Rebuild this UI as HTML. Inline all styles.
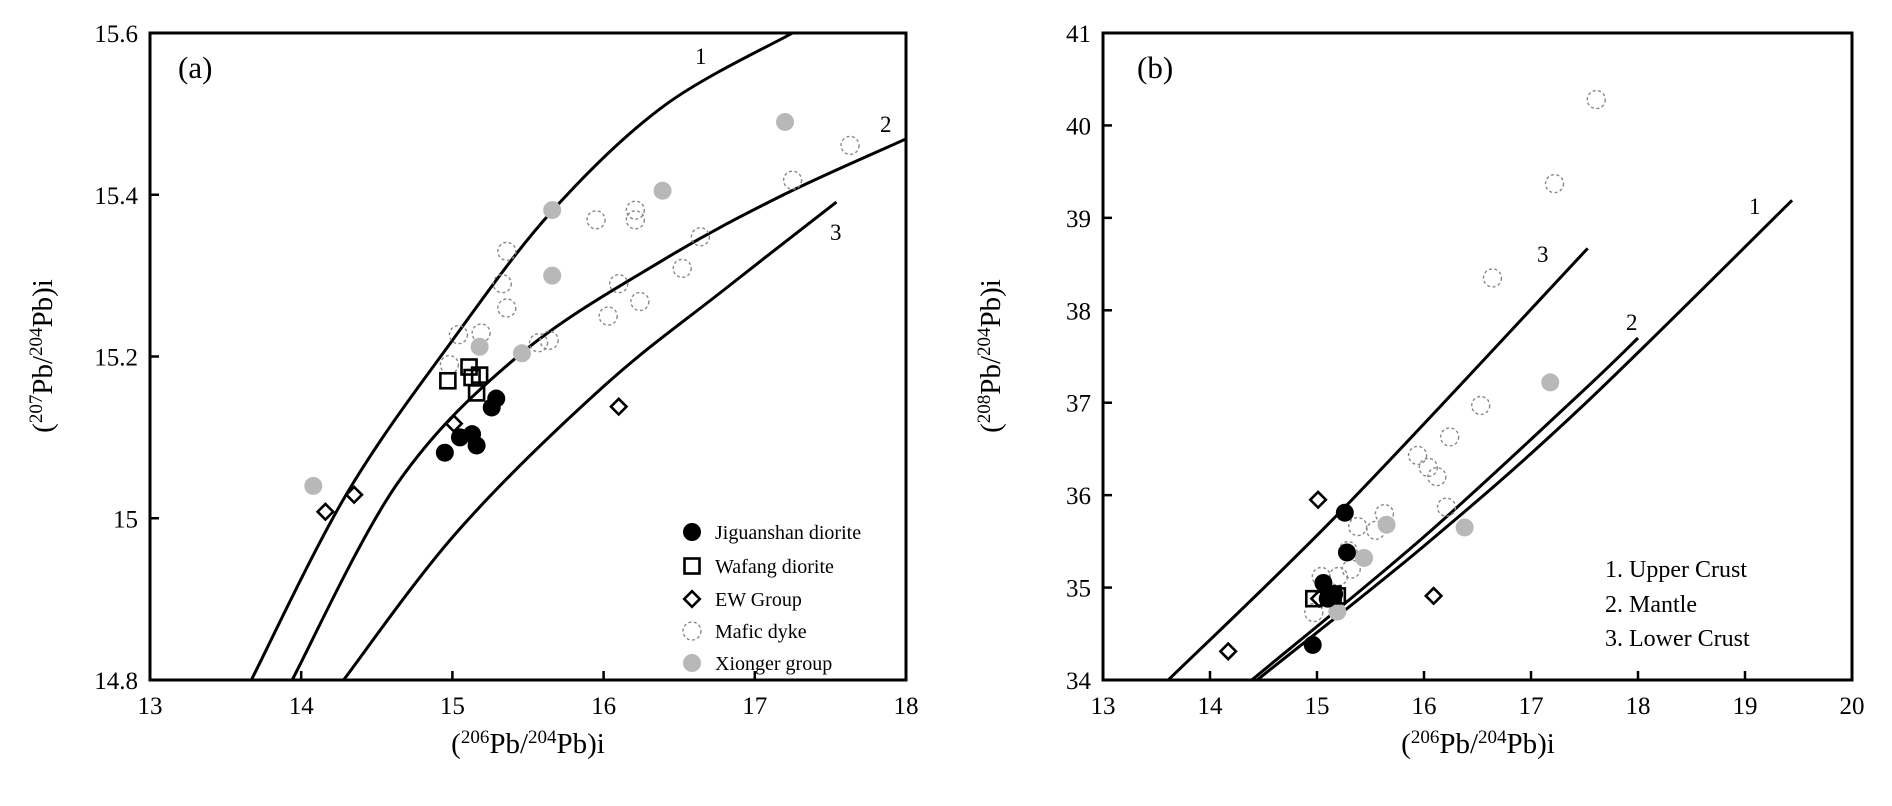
<!DOCTYPE html>
<html><head><meta charset="utf-8">
<style>
html,body{margin:0;padding:0;background:#fff;}
svg{display:block;font-family:"Liberation Serif",serif;}
</style></head>
<body>
<svg id="chart" width="1892" height="806" viewBox="0 0 1892 806" xmlns="http://www.w3.org/2000/svg"></svg>
<script>
// ---------- Panel (a) data ----------
const aXTicks = [13,14,15,16,17,18];
const aYTicks = [14.8,15,15.2,15.4,15.6];
const aYTickLabels = ["14.8","15","15.2","15.4","15.6"];
const aJigX = [14.95,15.05,15.13,15.16,15.26,15.29];
const aJigY = [15.081,15.10,15.104,15.09,15.137,15.148];
const aWafX = [14.97,15.11,15.13,15.18,15.16];
const aWafY = [15.17,15.187,15.174,15.177,15.155];
const aEwX = [14.16,14.35,15.01,16.10];
const aEwY = [15.008,15.029,15.117,15.138];
const aDykeX = [15.36,15.33,15.36,15.04,15.19,14.98,15.95,16.21,16.21,16.10,16.03,16.24,16.52,16.64,17.25,17.63,15.57,15.64];
const aDykeY = [15.33,15.29,15.26,15.227,15.229,15.19,15.369,15.381,15.369,15.29,15.25,15.268,15.309,15.348,15.418,15.461,15.217,15.22];
const aXiongX = [14.08,15.18,15.46,15.66,15.66,16.39,17.20];
const aXiongY = [15.04,15.212,15.204,15.30,15.381,15.405,15.49];
const aCurve1X = [13.67,14.3,15.0,15.66,16.4,17.25];
const aCurve1Y = [14.8,15.03,15.22,15.38,15.51,15.60];
const aCurve2X = [13.94,14.64,15.45,16.40,17.19,18.0];
const aCurve2Y = [14.8,15.044,15.203,15.32,15.40,15.469];
const aCurve3X = [14.28,15.04,16.00,16.80,17.54];
const aCurve3Y = [14.8,14.985,15.163,15.283,15.391];
// ---------- Panel (b) data ----------
const bXTicks = [13,14,15,16,17,18,19,20];
const bYTicks = [34,35,36,37,38,39,40,41];
const bJigX = [15.26,15.28,15.06,15.16,14.96,15.10];
const bJigY = [35.81,35.38,35.05,34.93,34.38,34.88];
const bWafX = [14.97,15.19,15.15];
const bWafY = [34.88,34.91,34.93];
const bEwX = [15.01,14.17,16.09,15.02];
const bEwY = [35.95,34.31,34.91,34.88];
const bDykeX = [17.61,17.22,16.64,16.53,16.24,15.94,16.04,16.12,16.21,15.63,15.38,15.55,15.32,15.20,15.04,14.97,15.29];
const bDykeY = [40.28,39.37,38.35,36.97,36.63,36.43,36.30,36.20,35.87,35.80,35.66,35.62,35.20,35.12,35.12,34.73,35.40];
const bXiongX = [15.65,15.44,15.19,16.38,17.18];
const bXiongY = [35.68,35.32,34.74,35.65,37.22];
const bCurve1X = [14.44,16.0,17.46,19.44];
const bCurve1Y = [34.0,35.45,36.94,39.19];
const bCurve2X = [14.39,16.0,17.46,18.0];
const bCurve2Y = [34.0,35.55,37.10,37.70];
const bCurve3X = [13.61,15.26,17.53];
const bCurve3Y = [34.0,35.87,38.67];

const NS = "http://www.w3.org/2000/svg";
const svg = document.getElementById('chart');
function mk(tag, attrs, parent){
  const e = document.createElementNS(NS, tag);
  for (const k in attrs) e.setAttribute(k, attrs[k]);
  (parent||svg).appendChild(e);
  return e;
}
function scale(d0,d1,p0,p1){ return v => p0 + (v-d0)/(d1-d0)*(p1-p0); }

function smoothPath(xs, ys, sx, sy){
  const P = xs.map((x,i)=>[sx(x), sy(ys[i])]);
  let d = `M${P[0][0]},${P[0][1]}`;
  for (let i=0;i<P.length-1;i++){
    const p0 = P[i-1]||P[i], p1=P[i], p2=P[i+1], p3=P[i+2]||P[i+1];
    const c1x = p1[0]+(p2[0]-p0[0])/6, c1y = p1[1]+(p2[1]-p0[1])/6;
    const c2x = p2[0]-(p3[0]-p1[0])/6, c2y = p2[1]-(p3[1]-p1[1])/6;
    d += ` C${c1x},${c1y} ${c2x},${c2y} ${p2[0]},${p2[1]}`;
  }
  return d;
}

function marker(g, type, cx, cy){
  let e;
  if (type==='jig') e = mk('circle',{cx,cy,r:9,fill:'#000'},g);
  else if (type==='waf') e = mk('rect',{x:cx-7.5,y:cy-7.5,width:15,height:15,fill:'none',stroke:'#000','stroke-width':2.6},g);
  else if (type==='ew') e = mk('rect',{x:cx-5.5,y:cy-5.5,width:11,height:11,fill:'none',stroke:'#000','stroke-width':2.6,transform:`rotate(45 ${cx} ${cy})`},g);
  else if (type==='dyke') e = mk('circle',{cx,cy,r:9,fill:'none',stroke:'#888','stroke-width':1.4,'stroke-dasharray':'3 2.5'},g);
  else e = mk('circle',{cx,cy,r:9,fill:'#b8b8b8'},g);
  return e;
}

function drawPanel(cfg){
  const {L,R,T,B,xd,yd,xTicks,yTicks,yLabels,name} = cfg;
  const sx = scale(xd[0],xd[1],L,R), sy = scale(yd[0],yd[1],B,T);
  const g = mk('g',{});
  
  
  const frame = mk('rect',{x:L,y:T,width:R-L,height:B-T,fill:'none',stroke:'#000','stroke-width':3},g);
  
  
  xTicks.forEach(v=>{
    const x = sx(v);
    if (v!==xd[0] && v!==xd[1]) {
      const t = mk('line',{x1:x,y1:B,x2:x,y2:B-9,stroke:'#000','stroke-width':2.5},g);
      
      
    }
    const lb = mk('text',{x:x,y:B+34,'font-size':25,'text-anchor':'middle'},g);
    lb.textContent = String(v);
    
    
  });
  yTicks.forEach((v,i)=>{
    const y = sy(v);
    if (v!==yd[0] && v!==yd[1]) {
      const t = mk('line',{x1:L,y1:y,x2:L+9,y2:y,stroke:'#000','stroke-width':2.5},g);
      
      
    }
    const lb = mk('text',{x:L-12,y:y+9,'font-size':25,'text-anchor':'end'},g);
    lb.textContent = yLabels ? yLabels[i] : String(v);
    
    
  });
  return {g,sx,sy};
}

function series(g, type, xs, ys, sx, sy, name){
  const sg = mk('g',{},g);
  
  
  xs.forEach((x,i)=>{
    const m = marker(sg, type, sx(x), sy(ys[i]));
    
    
  });
}
function curve(g, xs, ys, sx, sy, name){
  const p = mk('path',{d:smoothPath(xs,ys,sx,sy),fill:'none',stroke:'#000','stroke-width':3},g);
  
  
}
function label(g, x, y, txt, size, name, anchor){
  const t = mk('text',{x,y,'font-size':size,'text-anchor':anchor||'start'},g);
  t.textContent = txt;
  
  
  return t;
}
function axisTitle(g, x, y, rot, iso, name){
  const t = mk('text',{x,y,'font-size':29,'text-anchor':'middle',transform:rot?`rotate(-90 ${x} ${y})`:''},g);
  
  
  const parts = [['(',0],[iso,1],['Pb/',0],['204',1],['Pb)i',0]];
  parts.forEach(([s,sup])=>{
    const ts = document.createElementNS(NS,'tspan');
    ts.textContent = s;
    if (sup){ ts.setAttribute('font-size','19'); ts.setAttribute('dy','-10'); }
    else if (s!=='(') ts.setAttribute('dy','10');
    t.appendChild(ts);
  });
  return t;
}

// Panel a
const A = drawPanel({L:150,R:906,T:33,B:680,xd:[13,18],yd:[14.8,15.6],xTicks:aXTicks,yTicks:aYTicks,yLabels:aYTickLabels,name:'panel-a'});
curve(A.g,aCurve1X,aCurve1Y,A.sx,A.sy,'curve-upper-crust');
curve(A.g,aCurve2X,aCurve2Y,A.sx,A.sy,'curve-mantle');
curve(A.g,aCurve3X,aCurve3Y,A.sx,A.sy,'curve-lower-crust');
series(A.g,'dyke',aDykeX,aDykeY,A.sx,A.sy,'mafic-dyke');
series(A.g,'xiong',aXiongX,aXiongY,A.sx,A.sy,'xionger-group');
series(A.g,'waf',aWafX,aWafY,A.sx,A.sy,'wafang-diorite');
series(A.g,'ew',aEwX,aEwY,A.sx,A.sy,'ew-group');
series(A.g,'jig',aJigX,aJigY,A.sx,A.sy,'jiguanshan-diorite');
label(A.g,178,78,'(a)',31,'panel-label-a');
label(A.g,695,64,'1',23,'curve-label-1');
label(A.g,880,132,'2',23,'curve-label-2');
label(A.g,830,240,'3',23,'curve-label-3');
axisTitle(A.g,528,753,false,'206','x-axis-title-a');
axisTitle(A.g,52,356,true,'207','y-axis-title-a');
const legTypes = ['jig','waf','ew','dyke','xiong'];
const legNames = ['Jiguanshan diorite','Wafang diorite','EW Group','Mafic dyke','Xionger group'];
const legYs = [532,566,599,631,663];
const lg = mk('g',{},A.g);


legTypes.forEach((t,i)=>{
  const m = marker(lg,t,692,legYs[i]);
  
  
  label(lg,715,legYs[i]+7,legNames[i],20,'legend-entry');
});

// Panel b
const Bp = drawPanel({L:1103,R:1852,T:33,B:680,xd:[13,20],yd:[34,41],xTicks:bXTicks,yTicks:bYTicks,name:'panel-b'});
curve(Bp.g,bCurve1X,bCurve1Y,Bp.sx,Bp.sy,'curve-upper-crust');
curve(Bp.g,bCurve2X,bCurve2Y,Bp.sx,Bp.sy,'curve-mantle');
curve(Bp.g,bCurve3X,bCurve3Y,Bp.sx,Bp.sy,'curve-lower-crust');
series(Bp.g,'dyke',bDykeX,bDykeY,Bp.sx,Bp.sy,'mafic-dyke');
series(Bp.g,'xiong',bXiongX,bXiongY,Bp.sx,Bp.sy,'xionger-group');
series(Bp.g,'waf',bWafX,bWafY,Bp.sx,Bp.sy,'wafang-diorite');
series(Bp.g,'ew',bEwX,bEwY,Bp.sx,Bp.sy,'ew-group');
series(Bp.g,'jig',bJigX,bJigY,Bp.sx,Bp.sy,'jiguanshan-diorite');
label(Bp.g,1137,78,'(b)',31,'panel-label-b');
label(Bp.g,1749,214,'1',23,'curve-label-1');
label(Bp.g,1626,330,'2',23,'curve-label-2');
label(Bp.g,1537,262,'3',23,'curve-label-3');
label(Bp.g,1605,577,'1. Upper Crust',24,'curve-key-upper-crust');
label(Bp.g,1605,612,'2. Mantle',24,'curve-key-mantle');
label(Bp.g,1605,646,'3. Lower Crust',24,'curve-key-lower-crust');
axisTitle(Bp.g,1478,753,false,'206','x-axis-title-b');
axisTitle(Bp.g,1000,356,true,'208','y-axis-title-b');
</script>
</body></html>
